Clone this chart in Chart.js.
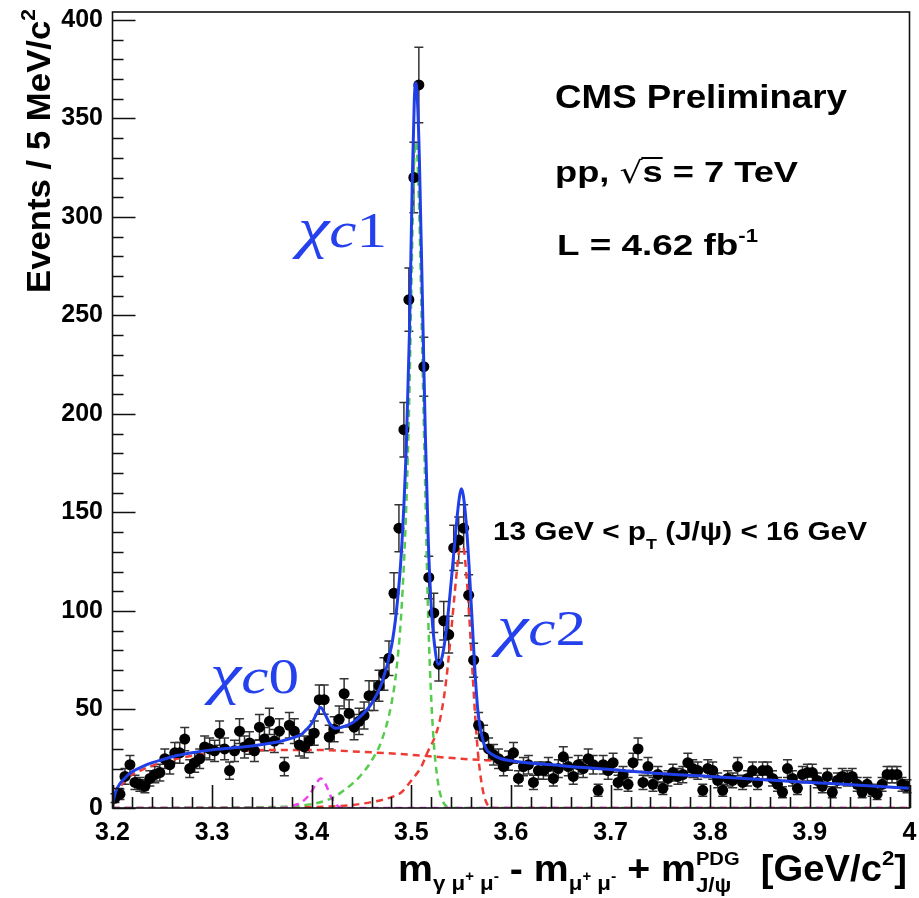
<!DOCTYPE html>
<html>
<head>
<meta charset="utf-8">
<script src="https://cdn.jsdelivr.net/npm/chart.js@4.4.1/dist/chart.umd.min.js"></script>
<style>
  html, body { margin: 0; padding: 0; background: #fff; }
  #wrap { width: 919px; height: 898px; }
</style>
</head>
<body>
<div id="wrap"><canvas id="chart" width="919" height="898"></canvas></div>
<script>
// Binning of the histogram (5 MeV bins from 3.2 to 4.0 GeV)
const binStart = 3.2;
const binWidth = 0.005;

// Events per bin
const counts = [
  5, 7, 16, 22, 13, 12, 11, 15, 17, 18,
  25, 22, 28, 28, 35, 20, 23, 25, 31, 30,
  29, 38, 30, 19, 29, 39, 31, 33, 29, 41,
  35, 44, 34, 39, 21, 42, 39, 32, 31, 34,
  38, 55, 55, 36, 40, 45, 58, 48, 41, 44,
  47, 57, 57, 62, 68, 76, 109, 142, 192, 258,
  320, 367, 224, 117, 99, 73, 95, 88, 132, 136,
  142, 108, 75, 42, 36, 30, 27, 25, 21, 24,
  28, 15, 21, 22, 13, 19, 19, 21, 15, 20,
  26, 21, 16, 22, 20, 25, 22, 9, 22, 19,
  23, 13, 17, 12, 23, 30, 13, 21, 12, 17,
  10, 15, 18, 16, 17, 23, 20, 19, 9, 20,
  19, 14, 9, 15, 14, 21, 13, 15, 19, 13,
  19, 19, 15, 12, 8, 20, 15, 10, 17, 18,
  18, 14, 11, 16, 8, 14, 16, 15, 16, 12,
  8, 12, 9, 7, 12, 17, 17, 17, 12, 11
];

// Fit curves
const totalX = [3.2, 3.203, 3.207, 3.212, 3.22, 3.23, 3.24, 3.25, 3.26, 3.28, 3.30, 3.32, 3.34, 3.36, 3.37, 3.38, 3.39, 3.395, 3.40, 3.405, 3.409, 3.413, 3.418, 3.424, 3.43, 3.44, 3.45, 3.46, 3.47, 3.48, 3.485, 3.49, 3.495, 3.498, 3.501, 3.503, 3.5045, 3.506, 3.508, 3.511, 3.514, 3.517, 3.52, 3.523, 3.527, 3.531, 3.535, 3.54, 3.545, 3.548, 3.55, 3.552, 3.555, 3.558, 3.561, 3.564, 3.567, 3.571, 3.575, 3.58, 3.59, 3.60, 3.65, 3.70, 3.75, 3.80, 3.85, 3.90, 3.95, 4.0];
const totalY = [2, 8, 12, 15, 18.5, 21, 23, 24.5, 26, 28, 29.5, 30.5, 31.5, 33, 34, 35.5, 37.5, 40, 43, 48, 51, 48, 43, 40.5, 41, 43, 47, 53, 63, 82, 100, 130, 185, 240, 320, 360, 368, 360, 330, 260, 190, 135, 102, 84, 73, 77, 90, 115, 143, 157, 162, 159, 145, 122, 95, 68, 48, 36, 30, 27.5, 25, 24, 21.5, 19.5, 17.5, 16, 14.5, 13, 11.5, 10];

const bkgX = [3.2, 3.203, 3.207, 3.212, 3.22, 3.23, 3.24, 3.25, 3.26, 3.28, 3.30, 3.33, 3.36, 3.40, 3.45, 3.50, 3.55, 3.60, 3.70, 3.80, 3.90, 4.0];
const bkgY = [0, 6, 10, 13.5, 17, 19.5, 21.5, 23, 24.5, 26.5, 28, 29, 29.5, 29.5, 28.5, 27, 25, 23.5, 19.5, 16, 13, 10];

const chic0X = [3.2, 3.37, 3.38, 3.39, 3.398, 3.404, 3.409, 3.414, 3.419, 3.425, 3.432, 4.0];
const chic0Y = [0, 0, 1, 3, 7, 12, 15, 12, 6, 1.5, 0, 0];

const chic1X = [3.2, 3.36, 3.40, 3.42, 3.44, 3.45, 3.46, 3.47, 3.48, 3.485, 3.49, 3.495, 3.498, 3.501, 3.503, 3.5045, 3.506, 3.508, 3.511, 3.514, 3.517, 3.52, 3.523, 3.527, 3.531, 3.536, 3.54, 4.0];
const chic1Y = [0, 0.5, 2, 5, 12, 17, 24, 34, 53, 70, 100, 155, 210, 290, 330, 338, 330, 300, 230, 160, 95, 55, 30, 12, 4, 0.5, 0, 0];

const chic2X = [3.2, 3.40, 3.44, 3.46, 3.48, 3.49, 3.50, 3.51, 3.516, 3.525, 3.53, 3.535, 3.54, 3.545, 3.548, 3.55, 3.552, 3.555, 3.558, 3.561, 3.564, 3.567, 3.571, 3.575, 3.58, 3.585, 4.0];
const chic2Y = [0, 0.5, 1.5, 3, 5.5, 8, 14, 21, 28, 38, 48, 65, 90, 117, 131, 136, 134, 120, 98, 72, 47, 27, 11, 3, 0.5, 0, 0];

// Axis settings
const xMin = 3.2, xMax = 4.0, xStep = 0.1, xMinor = 0.02;
const yMin = 0, yMax = 404, yStep = 50, yMinor = 10;

const bold = n => `bold ${n}px "Liberation Sans", Arial, Helvetica, sans-serif`;
const blueText = '#2541ee';

const zip = (xs, ys) => xs.map((x, i) => ({ x: x, y: ys[i] }));
const points = counts.map((n, i) => ({ x: binStart + (i + 0.5) * binWidth, y: n }));

// --- rich text helpers (sub/superscripts, stretched to a width) ---
function segWidth(ctx, s) {
  if (s.stack) {
    ctx.font = s.ft; const a = ctx.measureText(s.top).width;
    ctx.font = s.fb; const b = ctx.measureText(s.bot).width;
    return Math.max(a, b);
  }
  ctx.font = s.f;
  return ctx.measureText(s.t).width;
}

function drawRich(ctx, segs, x, y, opts) {
  opts = opts || {};
  let natural = 0;
  segs.forEach(s => { natural += segWidth(ctx, s); });
  const sx = opts.width ? opts.width / natural : 1;
  const total = natural * sx;
  ctx.save();
  ctx.translate(opts.align === 'right' ? x - total : x, y);
  ctx.scale(sx, 1);
  ctx.fillStyle = opts.color || '#000';
  ctx.strokeStyle = opts.color || '#000';
  ctx.textBaseline = 'alphabetic';
  ctx.textAlign = 'left';
  let cx = 0;
  segs.forEach(s => {
    const w = segWidth(ctx, s);
    if (s.stack) {
      ctx.font = s.ft; ctx.fillText(s.top, cx, s.dyt);
      ctx.font = s.fb; ctx.fillText(s.bot, cx, s.dyb);
    } else {
      ctx.font = s.f;
      ctx.fillText(s.t, cx, s.dy || 0);
      if (s.over) {
        ctx.lineWidth = 2;
        ctx.beginPath();
        ctx.moveTo(cx - 1, s.over);
        ctx.lineTo(cx + w, s.over);
        ctx.stroke();
      }
    }
    cx += w;
  });
  ctx.restore();
}

// Error bars under the markers
const errorBars = {
  id: 'errorBars',
  beforeDatasetsDraw(chart) {
    const { ctx, scales: { x, y } } = chart;
    ctx.save();
    ctx.strokeStyle = '#333';
    ctx.lineWidth = 1.5;
    points.forEach(p => {
      const e = Math.sqrt(p.y);
      const px = x.getPixelForValue(p.x);
      const top = y.getPixelForValue(p.y + e);
      const bot = y.getPixelForValue(Math.max(0, p.y - e));
      ctx.beginPath();
      ctx.moveTo(px, top); ctx.lineTo(px, bot);
      ctx.moveTo(px - 4.5, top); ctx.lineTo(px + 4.5, top);
      ctx.moveTo(px - 4.5, bot); ctx.lineTo(px + 4.5, bot);
      ctx.stroke();
    });
    ctx.restore();
  }
};

// ROOT-style frame with inward ticks
const frame = {
  id: 'frame',
  afterDatasetsDraw(chart) {
    const { ctx, chartArea: a, scales: { x, y } } = chart;
    ctx.save();
    ctx.strokeStyle = '#111';
    ctx.lineWidth = 1.6;
    ctx.strokeRect(a.left, a.top, a.right - a.left, a.bottom - a.top);
    ctx.beginPath();
    for (let v = yMin; v <= yMax + 1e-6; v += yMinor) {
      const py = Math.round(y.getPixelForValue(v)) + 0.5;
      const len = Math.abs(v % yStep) < 1e-6 ? 23 : 11;
      ctx.moveTo(a.left, py); ctx.lineTo(a.left + len, py);
    }
    for (let i = 0; i <= Math.round((xMax - xMin) / xMinor); i++) {
      const v = xMin + i * xMinor;
      const px = Math.round(x.getPixelForValue(v)) + 0.5;
      const len = i % 5 === 0 ? 23 : 11;
      ctx.moveTo(px, a.bottom); ctx.lineTo(px, a.bottom - len);
    }
    ctx.stroke();
    ctx.restore();
  }
};

// Titles and labels
const annotations = {
  id: 'annotations',
  afterDraw(chart) {
    const ctx = chart.ctx;

    // y axis title, rotated, flush with the top
    ctx.save();
    ctx.translate(50, 9);
    ctx.rotate(-Math.PI / 2);
    drawRich(ctx, [
      { t: 'Events / 5 MeV/c', f: bold(33) },
      { t: '2', f: bold(20), dy: -15 }
    ], 0, 0, { align: 'right', width: 284 });
    ctx.restore();

    // x axis title, flush right
    drawRich(ctx, [
      { t: 'm', f: bold(37) },
      { t: 'γ μ', f: bold(21), dy: 9 },
      { t: '+', f: bold(14), dy: 0 },
      { t: ' μ', f: bold(21), dy: 9 },
      { t: '-', f: bold(15), dy: 0 },
      { t: ' - m', f: bold(37) },
      { t: 'μ', f: bold(21), dy: 9 },
      { t: '+', f: bold(14), dy: 0 },
      { t: ' μ', f: bold(21), dy: 9 },
      { t: '-', f: bold(15), dy: 0 },
      { t: ' + m', f: bold(37) },
      { stack: true, top: 'PDG', ft: bold(19), dyt: -16, bot: 'J/ψ', fb: bold(21), dyb: 11 },
      { t: '  [GeV/c', f: bold(36) },
      { t: '2', f: bold(21), dy: -16 },
      { t: ']', f: bold(36) }
    ], 907, 881, { align: 'right', width: 509 });

    // experiment labels
    drawRich(ctx, [{ t: 'CMS Preliminary', f: bold(33) }], 555, 108, { width: 292 });
    drawRich(ctx, [
      { t: 'pp, ', f: bold(30) },
      { t: '√', f: `30px "DejaVu Sans", sans-serif`, dy: 1 },
      { t: 's', f: bold(30), over: -24 },
      { t: ' = 7 TeV', f: bold(30) }
    ], 555, 182, { width: 243 });
    drawRich(ctx, [
      { t: 'L = 4.62 fb', f: bold(30) },
      { t: '-1', f: bold(18), dy: -13 }
    ], 557, 255, { width: 201 });
    drawRich(ctx, [
      { t: '13 GeV < p', f: bold(25) },
      { t: 'T', f: bold(15), dy: 9 },
      { t: ' (J/ψ) < 16 GeV', f: bold(25) }
    ], 493, 540, { width: 374 });

    // peak names
    const serifI = n => `italic ${n}px "Liberation Serif", "DejaVu Serif", serif`;
    const serif = n => `${n}px "Liberation Serif", "DejaVu Serif", serif`;
    [['1', 298, 247], ['0', 210, 693], ['2', 497, 645]].forEach(([d, x, y]) => {
      drawRich(ctx, [
        { t: 'χ', f: serifI(58) },
        { t: 'c', f: serifI(50) },
        { t: d, f: serif(50) }
      ], x, y, { width: 89, color: blueText });
    });
  }
};

const curveStyle = (color, dashed, width) => ({
  showLine: true,
  borderColor: color,
  borderWidth: width,
  borderDash: dashed ? [7, 5] : [],
  pointRadius: 0,
  fill: false,
  cubicInterpolationMode: 'monotone'
});

const tickFont = { family: '"Liberation Sans", Arial, Helvetica, sans-serif', size: 25, weight: 'bold' };

// No automatic padding from tick label sizes: the frame is placed by hand
const noPad = s => { s.paddingTop = 0; s.paddingBottom = 0; s.paddingLeft = 0; s.paddingRight = 0; };

new Chart(document.getElementById('chart'), {
  type: 'scatter',
  data: {
    datasets: [
      Object.assign({ label: 'background', data: zip(bkgX, bkgY), order: 2 }, curveStyle('#ee3b34', true, 2.5)),
      Object.assign({ label: 'chi_c0', data: zip(chic0X, chic0Y), order: 2 }, curveStyle('#ee44ee', true, 2.5)),
      Object.assign({ label: 'chi_c1', data: zip(chic1X, chic1Y), order: 2 }, curveStyle('#55cc4c', true, 2.5)),
      Object.assign({ label: 'chi_c2', data: zip(chic2X, chic2Y), order: 2 }, curveStyle('#ee3b34', true, 2.5)),
      {
        label: 'data', data: points, order: 1,
        pointRadius: 5.5, pointBackgroundColor: '#000', pointBorderWidth: 0, showLine: false
      },
      Object.assign({ label: 'total fit', data: zip(totalX, totalY), order: 0 }, curveStyle('#1f3fe8', false, 3))
    ]
  },
  options: {
    responsive: false,
    animation: false,
    devicePixelRatio: 1,
    layout: { padding: { top: 12, right: 9.5, left: 0, bottom: 0 } },
    plugins: { legend: { display: false }, tooltip: { enabled: false } },
    scales: {
      x: {
        type: 'linear', min: xMin, max: xMax,
        grid: { display: false, drawTicks: false },
        border: { display: false },
        ticks: {
          stepSize: xStep, includeBounds: false, autoSkip: false, maxRotation: 0,
          padding: 10, color: '#000', font: tickFont,
          callback: v => String(+v.toFixed(1))
        },
        afterFit: s => { s.height = 90; noPad(s); }
      },
      y: {
        type: 'linear', min: yMin, max: yMax,
        grid: { display: false, drawTicks: false },
        border: { display: false },
        ticks: {
          stepSize: yStep, includeBounds: false, autoSkip: false,
          padding: 9.5, color: '#000', font: tickFont
        },
        afterFit: s => { s.width = 112.5; noPad(s); }
      }
    }
  },
  plugins: [errorBars, frame, annotations]
});
</script>
</body>
</html>
